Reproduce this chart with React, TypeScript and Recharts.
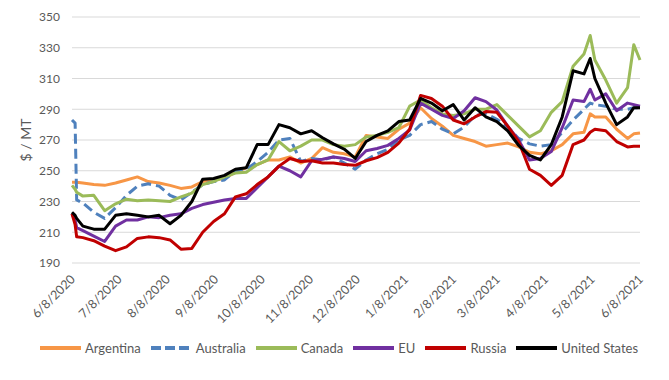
import {
    LineChart,
    Line,
    XAxis,
    YAxis,
    CartesianGrid,
    Legend
} from "recharts";

// day offsets from 6/8/2020
const days = [
    0, 2, 3, 7, 14, 21, 28, 35, 42, 49, 56, 63, 70, 77, 84, 91, 98, 105, 112,
    119, 126, 133, 140, 147, 154, 161, 168, 175, 182, 189, 196, 203, 210, 217,
    224, 231, 238, 245, 252, 259, 266, 273, 280, 287, 294, 301, 308, 315, 322,
    329, 333, 336, 343, 350, 357, 361, 365
];

const argentina = [
    242.5, 242.5, 242.5, 242, 241, 240.5, 242, 244, 246, 243, 242, 240.5, 238.5,
    239.5, 243, 244, 245, 249, 252, 254, 257, 257, 259, 255, 258, 265, 262, 261,
    259, 273, 272, 271, 277, 281, 291, 284, 279, 273, 271, 269, 266, 267, 268,
    265.5, 262, 261, 263, 267, 274, 275, 287, 285, 285, 277, 271, 274, 274.5
];

const australia = [
    283, 281, 231, 229, 223, 219, 226, 234, 240, 241.5, 240, 234, 231, 236, 241,
    243, 244, 250, 251, 256, 262, 270, 271, 256, 258, 257, 259, 255, 251, 257,
    261, 264, 270, 273, 280, 282, 277, 274, 278.5, 286, 287, 283.5, 278.5, 271,
    267.5, 266, 267, 275, 283, 290, 294, 293, 292, 290, 290, 291, 291
];

const canada = [
    240.5, 238, 236, 233.5, 234, 224, 228.5, 231.5, 230.5, 231, 230.5, 230, 233,
    235.5, 241, 243, 246, 248.5, 249, 254, 257, 269, 263, 266, 270, 270, 267,
    266, 267, 272, 273, 275, 278, 292, 296, 291, 287, 286, 287, 290, 290, 293,
    286, 279, 272, 276, 288, 295, 318, 326, 338, 322, 309, 294, 304, 332, 322
];

const eu = [
    222, 218, 213, 211, 207.5, 204, 214, 218, 218, 220, 219.5, 221, 222, 225.5,
    228, 229.5, 231, 232, 232, 239, 246, 253, 250, 246, 256.5, 257.5, 259, 258,
    256, 263, 264.5, 266.5, 271, 276.5, 294, 290, 286, 284, 289, 297.5, 295,
    289.5, 279, 270, 257, 258, 262.5, 278, 296, 295, 303, 296, 300, 289, 294,
    293, 292
];

const russia = [
    222, 215, 207, 206.5, 204.5, 201, 198, 200.5, 206, 207, 206.5, 205, 199,
    199.5, 210, 217, 222, 233, 235, 241, 246, 253, 258, 256, 256.5, 255, 255,
    254, 253.5, 256.5, 258.5, 262, 268, 277, 299, 297, 292, 283, 280.5, 285,
    288.5, 288, 279, 269, 251, 247, 240.5, 247, 267, 270, 275, 277, 276, 269,
    265.5, 266, 266
];

const unitedStates = [
    223, 221, 219, 214, 212, 212, 221, 222, 221, 220, 221, 215.5, 221, 230,
    244.5, 245, 247, 251, 252, 267, 267, 280, 278, 274, 276, 271.5, 267.5, 264,
    258, 269, 273, 276, 282, 283, 297, 294, 289, 293, 283, 291, 285, 282, 276,
    266.5, 260, 257, 267, 285, 315, 313, 323, 310, 294, 280, 285, 291, 291
];

const tickDays = [0, 30, 61, 92, 122, 153, 183, 214, 245, 273, 304, 334, 365];

const tickLabels = [
    "6/8/2020", "7/8/2020", "8/8/2020", "9/8/2020", "10/8/2020", "11/8/2020",
    "12/8/2020", "1/8/2021", "2/8/2021", "3/8/2021", "4/8/2021", "5/8/2021",
    "6/8/2021"
];

const yTicks = [190, 210, 230, 250, 270, 290, 310, 330, 350];

const seriesStyles = [
    { name: "Argentina", color: "#F79646", dash: undefined },
    { name: "Australia", color: "#4F81BD", dash: "10 5" },
    { name: "Canada", color: "#9BBB59", dash: undefined },
    { name: "EU", color: "#7030A0", dash: undefined },
    { name: "Russia", color: "#C00000", dash: undefined },
    { name: "United States", color: "#000000", dash: undefined }
];

const seriesValues = [argentina, australia, canada, eu, russia, unitedStates];

const FONT = "Lato, 'Open Sans', sans-serif";

const chartData = days.map((day, i) => {
    const row: Record<string, number> = { day };
    seriesStyles.forEach((s, k) => {
        row[s.name] = seriesValues[k][i];
    });
    return row;
});

const DateTick = ({ x, y, payload }: any) => {
    const idx = tickDays.indexOf(payload.value);
    const ax = x + 4;
    const ay = y + 9;
    return (
        <text
            x={ax}
            y={ay}
            transform={`rotate(-45, ${ax}, ${ay})`}
            textAnchor="end"
            fontSize={12.5}
            fontFamily={FONT}
            fill="#595959"
        >
            {tickLabels[idx]}
        </text>
    );
};

const AxisTitle = ({ viewBox }: any) => {
    const cx = 25;
    const cy = viewBox.y + viewBox.height / 2;
    return (
        <text
            x={cx}
            y={cy}
            transform={`rotate(-90, ${cx}, ${cy})`}
            textAnchor="middle"
            dominantBaseline="central"
            fontSize={14}
            fontFamily={FONT}
            fill="#595959"
        >
            $ / MT
        </text>
    );
};

const LegendRow = () => (
    <div
        style={{
            display: "flex",
            alignItems: "center",
            fontFamily: FONT,
            fontSize: 13,
            color: "#595959",
            lineHeight: "16px"
        }}
    >
        {seriesStyles.map((s) => (
            <div
                key={s.name}
                style={{ display: "flex", alignItems: "center", marginRight: 10 }}
            >
                <svg width={41} height={8}>
                    <line
                        x1={0}
                        y1={4}
                        x2={41}
                        y2={4}
                        stroke={s.color}
                        strokeWidth={4}
                        strokeDasharray={s.dash ? "10 4" : undefined}
                    />
                </svg>
                <span style={{ marginLeft: 4 }}>{s.name}</span>
            </div>
        ))}
    </div>
);

export default function App() {
    return (
        <div
            style={{
                position: "absolute",
                left: 0,
                top: 0,
                width: 669,
                height: 380,
                background: "#ffffff"
            }}
        >
            <LineChart
                width={669}
                height={380}
                data={chartData}
                margin={{ top: 17, right: 29, bottom: 57, left: 0 }}
            >
                <CartesianGrid
                    vertical={false}
                    stroke="#D9D9D9"
                    strokeWidth={1}
                />
                <XAxis
                    dataKey="day"
                    type="number"
                    domain={[0, 365]}
                    ticks={tickDays}
                    interval={0}
                    tick={<DateTick />}
                    tickLine={false}
                    axisLine={false}
                    height={60}
                />
                <YAxis
                    domain={[190, 350]}
                    ticks={yTicks}
                    interval={0}
                    width={72}
                    tickLine={false}
                    axisLine={false}
                    tickMargin={6}
                    tick={{ fontSize: 12, fontFamily: FONT, fill: "#595959" }}
                    label={<AxisTitle />}
                />
                <Legend
                    layout="horizontal"
                    verticalAlign="middle"
                    content={<LegendRow />}
                    wrapperStyle={{ left: 40, top: 340, width: 620 }}
                />
                {seriesStyles.map((s) => (
                    <Line
                        key={s.name}
                        type="linear"
                        dataKey={s.name}
                        stroke={s.color}
                        strokeWidth={3}
                        strokeDasharray={s.dash}
                        strokeLinejoin="round"
                        dot={false}
                        activeDot={false}
                        isAnimationActive={false}
                    />
                ))}
            </LineChart>
        </div>
    );
}
